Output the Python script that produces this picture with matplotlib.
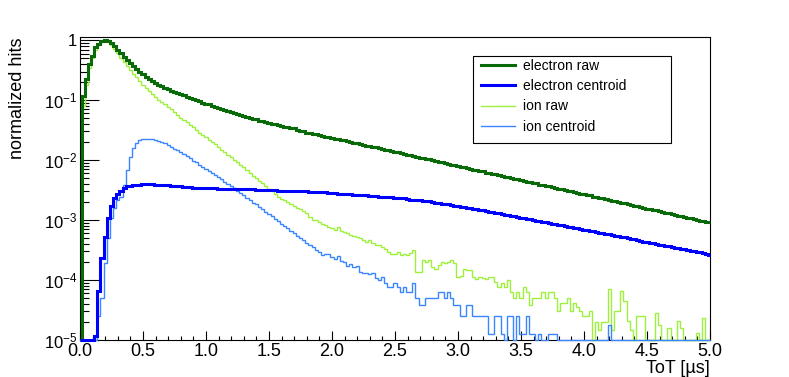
import numpy as np
import matplotlib
matplotlib.use("Agg")
import matplotlib.pyplot as plt
from matplotlib.patches import Rectangle
from matplotlib.ticker import LogLocator, MultipleLocator, NullFormatter

plt.rcParams["font.family"] = ["Liberation Sans", "DejaVu Sans"]
plt.rcParams["mathtext.default"] = "regular"

# ToT histograms, 25 ns bins centred on 0.000, 0.025, ..., 5.000 us
# values are log10(normalized hits), None = empty bin
bin_width = 0.025
tot_max = 5.0

electron_raw = [
    None, -0.93, -0.64, -0.40, -0.26, -0.12, -0.06, -0.02, 0.00, -0.01,
    -0.04, -0.10, -0.16, -0.22, -0.28, -0.33, -0.38, -0.43, -0.48, -0.53,
    -0.57, -0.61, -0.64, -0.68, -0.71, -0.74, -0.77, -0.79, -0.82, -0.84,
    -0.86, -0.88, -0.90, -0.92, -0.94, -0.96, -0.98, -1.00, -1.02, -1.04,
    -1.06, -1.07, -1.09, -1.11, -1.13, -1.15, -1.16, -1.18, -1.20, -1.22,
    -1.23, -1.25, -1.26, -1.28, -1.29, -1.31, -1.32, -1.34, -1.35, -1.36,
    -1.38, -1.39, -1.40, -1.41, -1.43, -1.44, -1.45, -1.46, -1.47, -1.49,
    -1.51, -1.52, -1.54, -1.55, -1.56, -1.57, -1.58, -1.59, -1.61, -1.62,
    -1.63, -1.64, -1.65, -1.66, -1.67, -1.69, -1.70, -1.71, -1.72, -1.73,
    -1.75, -1.76, -1.77, -1.78, -1.79, -1.80, -1.82, -1.83, -1.84, -1.85,
    -1.86, -1.87, -1.89, -1.90, -1.91, -1.92, -1.93, -1.95, -1.96, -1.97,
    -1.98, -1.99, -2.00, -2.02, -2.03, -2.04, -2.05, -2.06, -2.08, -2.09,
    -2.10, -2.11, -2.12, -2.13, -2.15, -2.16, -2.17, -2.18, -2.19, -2.21,
    -2.22, -2.23, -2.24, -2.25, -2.26, -2.28, -2.29, -2.30, -2.31, -2.32,
    -2.34, -2.35, -2.36, -2.37, -2.38, -2.39, -2.41, -2.42, -2.43, -2.44,
    -2.45, -2.46, -2.48, -2.49, -2.50, -2.51, -2.52, -2.54, -2.55, -2.56,
    -2.57, -2.58, -2.59, -2.61, -2.62, -2.63, -2.64, -2.65, -2.67, -2.68,
    -2.69, -2.70, -2.71, -2.72, -2.74, -2.75, -2.76, -2.77, -2.78, -2.80,
    -2.81, -2.82, -2.83, -2.84, -2.85, -2.87, -2.88, -2.89, -2.90, -2.91,
    -2.93, -2.94, -2.95, -2.96, -2.97, -2.98, -3.00, -3.01, -3.02, -3.03,
    -3.04,
]

electron_centroid = [
    None, None, None, None, None, -4.93, -4.18, -3.63, -3.28, -2.96,
    -2.77, -2.64, -2.56, -2.51, -2.47, -2.44, -2.43, -2.42, -2.41, -2.41,
    -2.40, -2.40, -2.40, -2.40, -2.41, -2.41, -2.41, -2.42, -2.42, -2.43,
    -2.44, -2.44, -2.44, -2.45, -2.45, -2.45, -2.46, -2.46, -2.46, -2.46,
    -2.47, -2.47, -2.47, -2.47, -2.48, -2.48, -2.48, -2.48, -2.48, -2.49,
    -2.49, -2.49, -2.49, -2.49, -2.49, -2.49, -2.50, -2.50, -2.50, -2.50,
    -2.50, -2.50, -2.50, -2.51, -2.51, -2.51, -2.51, -2.51, -2.52, -2.52,
    -2.52, -2.52, -2.52, -2.53, -2.53, -2.53, -2.54, -2.54, -2.54, -2.55,
    -2.55, -2.55, -2.56, -2.56, -2.56, -2.57, -2.57, -2.58, -2.58, -2.58,
    -2.59, -2.59, -2.60, -2.60, -2.60, -2.61, -2.61, -2.62, -2.62, -2.62,
    -2.63, -2.63, -2.64, -2.64, -2.65, -2.66, -2.66, -2.67, -2.67, -2.68,
    -2.69, -2.69, -2.70, -2.71, -2.72, -2.73, -2.73, -2.74, -2.75, -2.76,
    -2.77, -2.78, -2.79, -2.80, -2.80, -2.81, -2.82, -2.83, -2.84, -2.85,
    -2.86, -2.87, -2.88, -2.89, -2.90, -2.91, -2.92, -2.93, -2.94, -2.95,
    -2.96, -2.97, -2.98, -2.99, -3.00, -3.01, -3.02, -3.03, -3.04, -3.05,
    -3.06, -3.07, -3.08, -3.09, -3.10, -3.11, -3.12, -3.13, -3.14, -3.15,
    -3.16, -3.17, -3.18, -3.19, -3.20, -3.21, -3.22, -3.23, -3.24, -3.25,
    -3.26, -3.27, -3.28, -3.29, -3.30, -3.31, -3.32, -3.33, -3.35, -3.36,
    -3.37, -3.38, -3.39, -3.40, -3.41, -3.42, -3.43, -3.44, -3.45, -3.46,
    -3.47, -3.48, -3.49, -3.50, -3.51, -3.52, -3.53, -3.54, -3.55, -3.57,
    -3.58,
]

ion_raw = [
    None, -1.10, -0.75, -0.47, -0.30, -0.16, -0.08, -0.03, 0.00, -0.03,
    -0.08, -0.15, -0.22, -0.29, -0.36, -0.43, -0.50, -0.56, -0.62, -0.68,
    -0.74, -0.79, -0.85, -0.90, -0.94, -0.99, -1.03, -1.07, -1.11, -1.15,
    -1.19, -1.24, -1.29, -1.33, -1.37, -1.41, -1.45, -1.49, -1.54, -1.58,
    -1.62, -1.66, -1.70, -1.74, -1.78, -1.83, -1.87, -1.91, -1.95, -2.00,
    -2.04, -2.08, -2.12, -2.17, -2.21, -2.26, -2.30, -2.35, -2.39, -2.44,
    -2.48, -2.52, -2.57, -2.61, -2.65, -2.67, -2.70, -2.74, -2.77, -2.80,
    -2.82, -2.85, -2.88, -2.95, -3.00, -3.00, -3.03, -3.06, -3.08, -3.11,
    -3.14, -3.17, -3.12, -3.18, -3.20, -3.22, -3.25, -3.27, -3.28, -3.30,
    -3.33, -3.36, -3.33, -3.38, -3.42, -3.42, -3.45, -3.48, -3.53, -3.56,
    -3.56, -3.54, -3.58, -3.56, -3.58, -3.55, -3.50, -3.86, -3.86, -3.67,
    -3.70, -3.66, -3.78, -3.81, -3.75, -3.70, -3.72, -3.70, -3.67, -3.72,
    -3.95, -3.93, -3.81, -3.83, -3.84, -3.95, -3.98, -3.95, -3.97, -3.98,
    -3.96, -3.95, -4.03, -4.12, -4.05, -4.12, -4.00, -4.20, -4.30, -4.20,
    -4.30, -4.12, -4.20, -4.42, -4.30, -4.30, -4.30, -4.20, -4.30, -4.20,
    -4.20, -4.30, -4.52, -4.39, -4.39, -4.31, -4.52, -4.39, -4.45, -4.52,
    -4.60, -4.60, -4.52, None, -4.70, -4.84, -4.70, -4.70, -4.15, -4.84,
    -4.52, -4.52, -4.18, -4.35, -4.69, -4.84, None, -4.60, -4.60, -4.60,
    None, None, None, -4.55, -4.75, None, None, -4.81, None, None,
    -4.69, -4.81, None, None, None, None, -4.89, None, -4.64, None,
    None,
]

ion_centroid = [
    None, None, None, None, None, None, -4.60, -4.30, -3.72, -3.30,
    -2.97, -2.80, -2.67, -2.61, -2.42, -2.17, -1.95, -1.80, -1.72, -1.67,
    -1.65, -1.64, -1.64, -1.65, -1.66, -1.68, -1.70, -1.72, -1.75, -1.78,
    -1.81, -1.84, -1.87, -1.90, -1.94, -1.97, -2.01, -2.04, -2.08, -2.11,
    -2.15, -2.18, -2.22, -2.25, -2.29, -2.32, -2.36, -2.40, -2.44, -2.47,
    -2.51, -2.55, -2.59, -2.63, -2.67, -2.71, -2.74, -2.78, -2.82, -2.86,
    -2.90, -2.94, -2.98, -3.02, -3.06, -3.10, -3.14, -3.18, -3.22, -3.26,
    -3.30, -3.34, -3.38, -3.41, -3.45, -3.50, -3.54, -3.58, -3.57, -3.56,
    -3.62, -3.65, -3.60, -3.68, -3.70, -3.76, -3.73, -3.78, -3.76, -3.86,
    -3.89, -3.88, -3.90, -3.89, -3.97, -4.00, -3.95, -4.05, -4.12, -4.12,
    -4.05, -4.12, -4.20, -4.12, -4.20, -4.20, -4.05, -4.30, -4.42, -4.42,
    -4.30, -4.30, -4.30, -4.30, -4.20, -4.20, -4.30, -4.20, -4.30, -4.42,
    -4.42, -4.60, -4.60, -4.42, -4.42, -4.60, -4.60, -4.60, -4.60, -4.60,
    -4.90, -4.90, -4.60, -4.60, -4.90, None, -4.60, -4.60, None, -4.60,
    -4.90, -4.90, -4.60, -4.90, -4.90, None, -4.90, None, None, -4.90,
    -4.90, -4.90, None, None, None, None, None, None, None, None,
    None, None, None, None, None, None, None, None, -4.75, None,
    None, None, None, None, None, None, None, None, None, None,
    None, None, None, None, None, None, None, None, None, None,
    None, None, None, None, None, None, None, None, None, None,
    None,
]

y_min, y_max = 1e-5, 1.12


def to_hits(logs):
    # empty bins sit on the frame floor, as ROOT draws them
    return np.array([y_min if v is None else 10.0 ** v for v in logs])


fig = plt.figure(figsize=(7.89, 3.77), dpi=100)
ax = fig.add_axes([80 / 789, 1 - 339.8 / 377, 630 / 789, 302.5 / 377])

n_bins = len(electron_raw)
edges = np.clip((np.arange(n_bins + 1) - 0.5) * bin_width, 0, tot_max)

style = dict(baseline=None, clip_on=False)
h_ir = ax.stairs(to_hits(ion_raw), edges, color="#9ef03c", lw=1.0,
                 label="ion raw", zorder=3, **style)
h_ic = ax.stairs(to_hits(ion_centroid), edges, color="#3a86ff", lw=1.0,
                 label="ion centroid", zorder=3, **style)
h_er = ax.stairs(to_hits(electron_raw), edges, color="#096a09", lw=2.2,
                 label="electron raw", zorder=4, **style)
h_ec = ax.stairs(to_hits(electron_centroid), edges, color="#0000ff", lw=2.2,
                 label="electron centroid", zorder=4, **style)

ax.set_yscale("log")
ax.set_xlim(0, tot_max)
ax.set_ylim(y_min, y_max)

ax.set_yticks([1e-5, 1e-4, 1e-3, 1e-2, 1e-1, 1])
ax.set_yticklabels([r"$10^{-5}$", r"$10^{-4}$", r"$10^{-3}$",
                    r"$10^{-2}$", r"$10^{-1}$", "1"])
ax.yaxis.set_minor_locator(LogLocator(base=10, subs=np.arange(2, 10)))
ax.yaxis.set_minor_formatter(NullFormatter())
ax.xaxis.set_major_locator(MultipleLocator(0.5))
ax.xaxis.set_minor_locator(MultipleLocator(0.1))
ax.set_xticklabels([f"{v:.1f}" for v in ax.get_xticks()])

ax.tick_params(axis="x", which="major", direction="in", length=6.5,
               width=0.8, labelsize=13, pad=2)
ax.tick_params(axis="x", which="minor", direction="in", length=3.2, width=0.8)
ax.tick_params(axis="y", which="major", direction="in", length=13.5,
               width=0.8, labelsize=12, pad=2)
ax.tick_params(axis="y", which="minor", direction="in", length=6.8, width=0.8)
for s in ax.spines.values():
    s.set_linewidth(0.8)

ax.set_xlabel("ToT [\u00b5s]", fontsize=13, loc="right")
ax.xaxis.set_label_coords(1.0, -0.066)
ax.set_ylabel("normalized hits", fontsize=13, loc="top")
ax.yaxis.set_label_coords(-0.086, 1.0)

# legend box like ROOT's TLegend
fig.add_artist(Rectangle((473.3 / 789, 1 - 142.7 / 377), 197.4 / 789, 87 / 377,
                         transform=fig.transFigure, fill=False, ec="black",
                         lw=0.8, zorder=5))
fig.legend(handles=[h_er, h_ec, h_ir, h_ic], loc="upper left",
           bbox_to_anchor=(480.7 / 789, 1 - 58.9 / 377), frameon=False,
           fontsize=10, borderpad=0, borderaxespad=0, handlelength=2.47,
           handletextpad=0.55, labelspacing=0.45)

fig.savefig("out.png", dpi=100)
